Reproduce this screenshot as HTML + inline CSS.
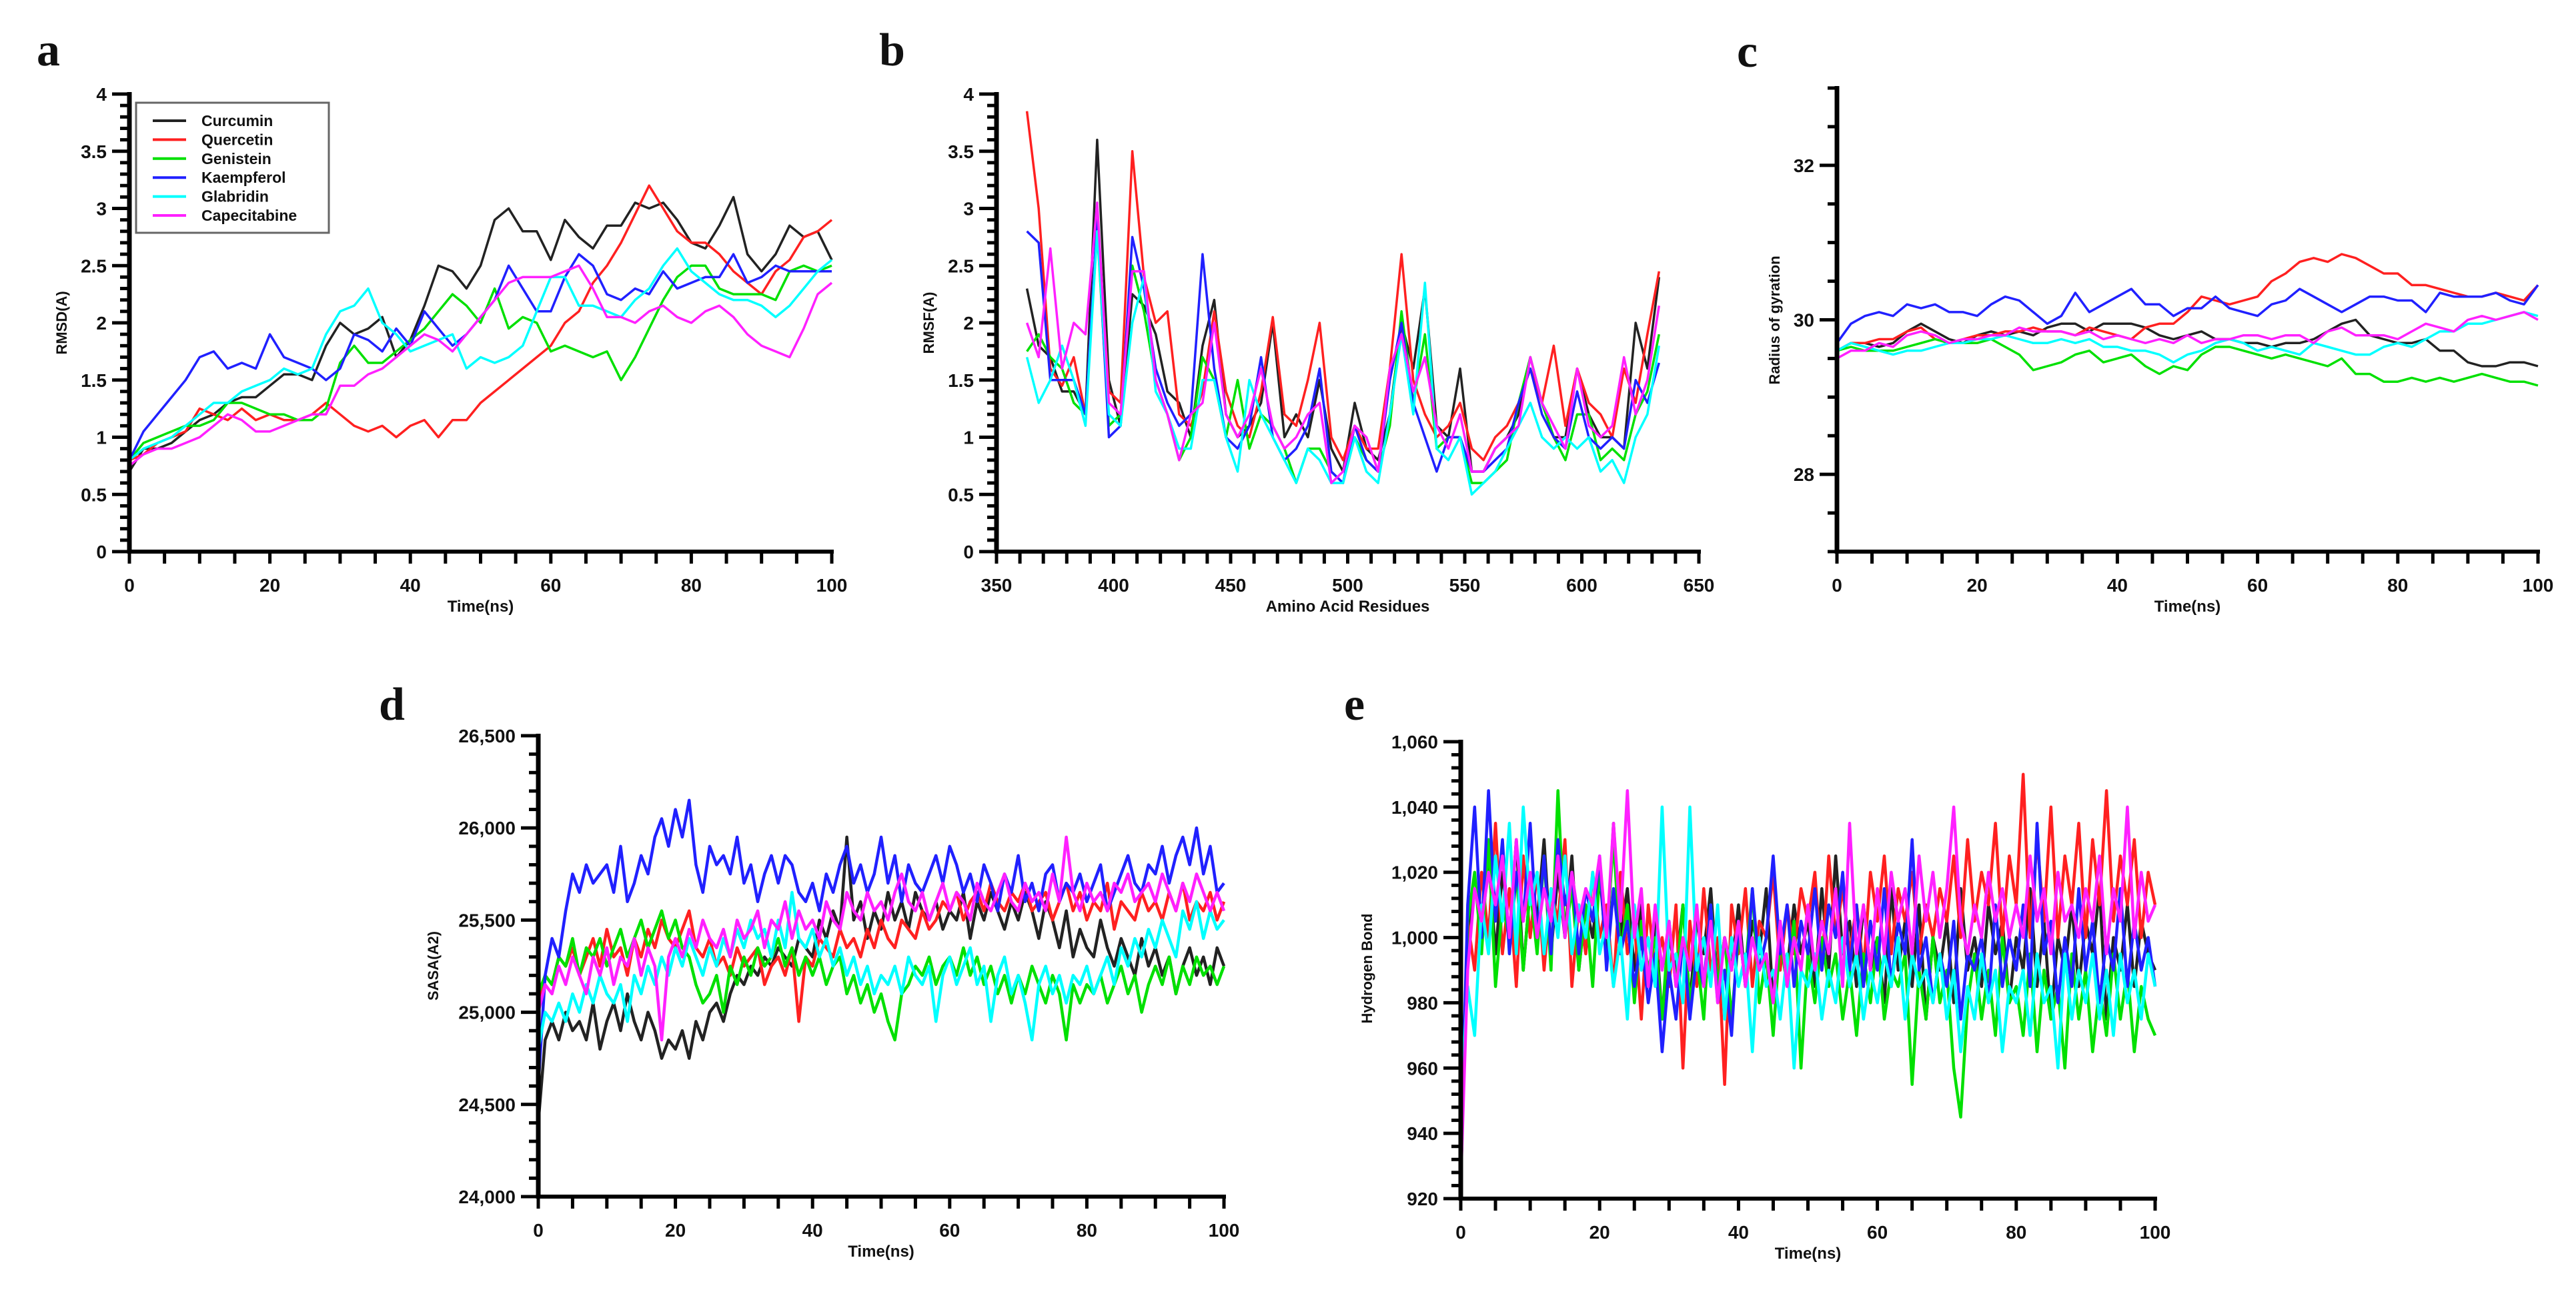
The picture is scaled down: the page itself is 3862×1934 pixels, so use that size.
<!DOCTYPE html>
<html><head><meta charset="utf-8"><style>
html,body{margin:0;padding:0;background:#fff;}
svg{display:block;}
text{font-family:"Liberation Sans",Arial,sans-serif;font-weight:bold;fill:#111;}
.pl{font-family:"Liberation Serif","Times New Roman",serif;font-weight:bold;}
</style></head><body>
<svg id="fig" width="3862" height="1934" viewBox="0 0 3862 1934" xmlns="http://www.w3.org/2000/svg"></svg>
<script>
// ---------- shared ----------
const seriesNames = ["Curcumin","Quercetin","Genistein","Kaempferol","Glabridin","Capecitabine"];
const seriesColors = ["#222222","#ff2020","#00e000","#2020ff","#00ffff","#ff20ff"];

// ---------- panel a: RMSD (t = 0..100 step 2) ----------
const rmsdTime = Array.from({length:51},(_,i)=>i*2);
const rmsdCurcumin = [0.7,0.9,0.9,0.95,1.05,1.15,1.2,1.3,1.35,1.35,1.45,1.55,1.55,1.5,1.8,2.0,1.9,1.95,2.05,1.7,1.85,2.15,2.5,2.45,2.3,2.5,2.9,3.0,2.8,2.8,2.55,2.9,2.75,2.65,2.85,2.85,3.05,3.0,3.05,2.9,2.7,2.65,2.85,3.1,2.6,2.45,2.6,2.85,2.75,2.8,2.55];
const rmsdQuercetin = [0.8,0.85,0.95,1.0,1.05,1.25,1.2,1.15,1.25,1.15,1.2,1.15,1.15,1.2,1.3,1.2,1.1,1.05,1.1,1.0,1.1,1.15,1.0,1.15,1.15,1.3,1.4,1.5,1.6,1.7,1.8,2.0,2.1,2.35,2.5,2.7,2.95,3.2,3.0,2.8,2.7,2.7,2.6,2.45,2.35,2.25,2.45,2.55,2.75,2.8,2.9];
const rmsdGenistein = [0.8,0.95,1.0,1.05,1.1,1.1,1.15,1.3,1.3,1.25,1.2,1.2,1.15,1.15,1.25,1.65,1.8,1.65,1.65,1.75,1.85,1.95,2.1,2.25,2.15,2.0,2.3,1.95,2.05,2.0,1.75,1.8,1.75,1.7,1.75,1.5,1.7,1.95,2.2,2.4,2.5,2.5,2.3,2.25,2.25,2.25,2.2,2.45,2.5,2.45,2.5];
const rmsdKaempferol = [0.8,1.05,1.2,1.35,1.5,1.7,1.75,1.6,1.65,1.6,1.9,1.7,1.65,1.6,1.5,1.6,1.9,1.85,1.75,1.95,1.8,2.1,1.95,1.8,1.9,2.05,2.2,2.5,2.3,2.1,2.1,2.4,2.6,2.5,2.25,2.2,2.3,2.25,2.45,2.3,2.35,2.4,2.4,2.6,2.35,2.4,2.5,2.45,2.45,2.45,2.45];
const rmsdGlabridin = [0.8,0.9,0.95,1.0,1.1,1.2,1.3,1.3,1.4,1.45,1.5,1.6,1.55,1.6,1.9,2.1,2.15,2.3,2.0,1.9,1.75,1.8,1.85,1.9,1.6,1.7,1.65,1.7,1.8,2.1,2.4,2.4,2.15,2.15,2.1,2.05,2.2,2.3,2.5,2.65,2.45,2.35,2.25,2.2,2.2,2.15,2.05,2.15,2.3,2.45,2.55];
const rmsdCapecitabine = [0.75,0.85,0.9,0.9,0.95,1.0,1.1,1.2,1.15,1.05,1.05,1.1,1.15,1.2,1.2,1.45,1.45,1.55,1.6,1.7,1.8,1.9,1.85,1.75,1.9,2.05,2.2,2.35,2.4,2.4,2.4,2.45,2.5,2.3,2.05,2.05,2.0,2.1,2.15,2.05,2.0,2.1,2.15,2.05,1.9,1.8,1.75,1.7,1.95,2.25,2.35];

// ---------- panel b: RMSF (residue 363..633 step 5) ----------
const rmsfResidues = Array.from({length:55},(_,i)=>363+i*5);
const rmsfCurcumin = [2.3,1.8,1.7,1.4,1.4,1.2,3.6,1.5,1.1,2.25,2.15,1.9,1.4,1.3,1.0,1.8,2.2,1.2,1.0,1.1,1.3,2.0,1.0,1.2,1.0,1.5,0.9,0.7,1.3,0.9,0.8,1.2,2.0,1.6,2.3,1.1,1.0,1.6,0.7,0.7,0.9,1.0,1.2,1.7,1.3,1.0,1.0,1.6,1.2,1.0,1.0,0.9,2.0,1.6,2.4];
const rmsfQuercetin = [3.85,3.0,1.6,1.45,1.7,1.2,2.9,1.4,1.3,3.5,2.4,2.0,2.1,1.2,1.1,1.4,2.1,1.4,1.1,1.0,1.4,2.05,1.2,1.1,1.5,2.0,1.0,0.8,1.1,0.9,0.9,1.6,2.6,1.5,1.2,1.0,1.1,1.3,0.9,0.8,1.0,1.1,1.3,1.6,1.3,1.8,1.1,1.6,1.3,1.2,1.0,1.6,1.3,1.9,2.45];
const rmsfGenistein = [1.75,1.9,1.7,1.6,1.3,1.2,2.8,1.1,1.2,2.5,2.1,1.5,1.2,0.8,1.0,1.7,1.5,1.0,1.5,0.9,1.2,1.1,0.9,0.6,0.9,0.9,0.7,0.6,1.0,0.8,0.7,1.1,2.1,1.3,1.9,0.9,1.0,1.0,0.6,0.6,0.7,0.8,1.3,1.7,1.3,1.0,0.8,1.2,1.2,0.8,0.9,0.8,1.2,1.4,1.9];
const rmsfKaempferol = [2.8,2.7,1.5,1.5,1.5,1.2,2.9,1.0,1.1,2.75,2.3,1.6,1.3,1.1,1.2,2.6,1.6,1.0,0.9,1.1,1.7,1.0,0.8,0.9,1.1,1.6,0.7,0.6,1.1,0.8,0.7,1.5,2.0,1.3,1.0,0.7,1.0,1.0,0.7,0.7,0.8,0.9,1.3,1.6,1.2,1.0,0.9,1.4,1.0,0.9,1.0,0.9,1.5,1.3,1.65];
const rmsfGlabridin = [1.7,1.3,1.5,1.8,1.5,1.1,2.8,1.2,1.1,2.0,2.4,1.4,1.2,0.9,0.9,1.5,1.5,1.0,0.7,1.5,1.2,1.0,0.8,0.6,0.9,0.8,0.6,0.6,1.0,0.7,0.6,1.2,1.9,1.2,2.35,0.9,0.8,1.0,0.5,0.6,0.7,0.9,1.1,1.3,1.0,0.9,1.0,0.9,1.0,0.7,0.8,0.6,1.0,1.2,1.8];
const rmsfCapecitabine = [2.0,1.7,2.65,1.6,2.0,1.9,3.05,1.3,1.2,2.45,2.45,1.5,1.2,0.8,1.2,1.3,2.0,1.2,1.0,1.2,1.6,1.1,0.9,1.0,1.2,1.3,0.6,0.7,1.1,1.0,0.7,1.6,1.9,1.4,1.7,1.1,0.9,1.2,0.7,0.7,0.9,1.0,1.1,1.7,1.3,1.1,0.9,1.6,1.1,1.0,1.1,1.7,1.2,1.5,2.15];

// ---------- panel c: Radius of gyration (t = 0..100 step 2) ----------
const rgTime = Array.from({length:51},(_,i)=>i*2);
const rgCurcumin = [29.6,29.7,29.7,29.65,29.7,29.85,29.95,29.85,29.75,29.7,29.8,29.85,29.8,29.85,29.8,29.9,29.95,29.95,29.85,29.95,29.95,29.95,29.9,29.8,29.75,29.8,29.85,29.75,29.75,29.7,29.7,29.65,29.7,29.7,29.75,29.85,29.95,30.0,29.8,29.75,29.7,29.7,29.75,29.6,29.6,29.45,29.4,29.4,29.45,29.45,29.4];
const rgQuercetin = [29.6,29.7,29.7,29.75,29.75,29.85,29.9,29.75,29.7,29.75,29.8,29.8,29.85,29.85,29.9,29.85,29.85,29.8,29.9,29.85,29.8,29.75,29.9,29.95,29.95,30.1,30.3,30.25,30.2,30.25,30.3,30.5,30.6,30.75,30.8,30.75,30.85,30.8,30.7,30.6,30.6,30.45,30.45,30.4,30.35,30.3,30.3,30.35,30.3,30.25,30.45];
const rgGenistein = [29.6,29.65,29.6,29.6,29.6,29.65,29.7,29.75,29.7,29.7,29.7,29.75,29.65,29.55,29.35,29.4,29.45,29.55,29.6,29.45,29.5,29.55,29.4,29.3,29.4,29.35,29.55,29.65,29.65,29.6,29.55,29.5,29.55,29.5,29.45,29.4,29.5,29.3,29.3,29.2,29.2,29.25,29.2,29.25,29.2,29.25,29.3,29.25,29.2,29.2,29.15];
const rgKaempferol = [29.7,29.95,30.05,30.1,30.05,30.2,30.15,30.2,30.1,30.1,30.05,30.2,30.3,30.25,30.1,29.95,30.05,30.35,30.1,30.2,30.3,30.4,30.2,30.2,30.05,30.15,30.15,30.3,30.15,30.1,30.05,30.2,30.25,30.4,30.3,30.2,30.1,30.2,30.3,30.3,30.25,30.25,30.1,30.35,30.3,30.3,30.3,30.35,30.25,30.2,30.45];
const rgGlabridin = [29.6,29.7,29.65,29.6,29.55,29.6,29.6,29.65,29.7,29.7,29.75,29.75,29.8,29.75,29.7,29.7,29.75,29.7,29.75,29.65,29.65,29.6,29.6,29.55,29.45,29.55,29.6,29.7,29.75,29.7,29.6,29.65,29.6,29.55,29.7,29.65,29.6,29.55,29.55,29.65,29.7,29.65,29.75,29.85,29.85,29.95,29.95,30.0,30.05,30.1,30.05];
const rgCapecitabine = [29.5,29.6,29.6,29.7,29.65,29.8,29.85,29.8,29.7,29.75,29.75,29.8,29.8,29.9,29.85,29.85,29.85,29.8,29.85,29.75,29.8,29.75,29.7,29.75,29.7,29.8,29.7,29.75,29.75,29.8,29.8,29.75,29.8,29.8,29.7,29.85,29.9,29.8,29.8,29.8,29.75,29.85,29.95,29.9,29.85,30.0,30.05,30.0,30.05,30.1,30.0];

// ---------- panel d: SASA (t = 0..100 step 1) ----------
const sasaTime = Array.from({length:101},(_,i)=>i);
const sasaCurcumin = [24400,24850,24950,24850,25000,24900,24950,24850,25050,24800,24950,25050,24900,25100,24950,24850,25000,24900,24750,24850,24800,24900,24750,24950,24850,25000,25050,24950,25100,25200,25150,25250,25200,25300,25250,25350,25300,25250,25400,25350,25300,25500,25400,25550,25450,25950,25500,25600,25400,25550,25450,25650,25500,25600,25450,25650,25550,25500,25600,25450,25550,25500,25650,25400,25600,25500,25650,25550,25450,25600,25500,25650,25550,25400,25600,25500,25350,25550,25300,25450,25350,25300,25500,25350,25250,25400,25300,25200,25400,25250,25350,25200,25300,25100,25250,25350,25200,25300,25150,25350,25250];
const sasaQuercetin = [25050,25200,25150,25300,25250,25350,25200,25300,25400,25250,25450,25300,25350,25200,25400,25300,25450,25350,25500,25400,25350,25450,25550,25350,25300,25400,25250,25300,25200,25350,25250,25300,25350,25150,25250,25300,25200,25350,24950,25300,25250,25400,25350,25300,25450,25350,25400,25300,25450,25350,25500,25400,25350,25500,25450,25400,25550,25450,25500,25600,25550,25650,25500,25600,25650,25550,25700,25600,25550,25650,25600,25700,25550,25600,25650,25500,25600,25700,25550,25650,25500,25600,25550,25700,25450,25600,25550,25500,25650,25550,25600,25500,25650,25550,25700,25500,25600,25550,25650,25500,25600];
const sasaGenistein = [25100,25200,25150,25300,25250,25400,25200,25350,25300,25400,25250,25350,25450,25300,25400,25500,25350,25450,25550,25400,25500,25350,25300,25150,25050,25100,25200,25000,25250,25150,25300,25200,25350,25250,25300,25400,25250,25350,25200,25300,25200,25300,25150,25250,25300,25100,25200,25050,25150,25000,25100,24950,24850,25100,25150,25250,25200,25300,25150,25250,25300,25200,25350,25200,25300,25150,25250,25100,25200,25050,25200,25100,25250,25150,25050,25200,25100,24850,25150,25050,25150,25100,25200,25050,25150,25250,25100,25200,25000,25150,25250,25150,25300,25100,25250,25150,25300,25200,25250,25150,25250];
const sasaKaempferol = [24600,25200,25400,25300,25550,25750,25650,25800,25700,25750,25800,25650,25900,25600,25700,25850,25750,25950,26050,25900,26100,25950,26150,25800,25650,25900,25800,25850,25750,25950,25700,25800,25600,25750,25850,25700,25850,25800,25650,25600,25700,25550,25750,25650,25800,25900,25700,25800,25650,25750,25950,25700,25850,25600,25800,25700,25650,25750,25850,25700,25900,25800,25650,25750,25600,25800,25700,25550,25750,25650,25850,25600,25700,25550,25750,25800,25600,25700,25650,25750,25600,25700,25800,25550,25650,25750,25850,25700,25650,25800,25750,25900,25700,25850,25950,25800,26000,25750,25900,25650,25700];
const sasaGlabridin = [24800,25000,24950,25050,24950,25100,25000,25150,25050,25200,25100,25050,25150,24950,25200,25100,25250,25150,25300,25200,25350,25250,25400,25300,25200,25350,25250,25400,25300,25450,25350,25500,25400,25450,25300,25500,25350,25650,25400,25350,25450,25300,25400,25250,25350,25200,25300,25150,25250,25100,25200,25150,25250,25100,25300,25200,25150,25250,24950,25200,25300,25150,25250,25350,25150,25250,24950,25200,25300,25100,25200,25050,24850,25150,25250,25100,25200,25050,25200,25150,25250,25100,25200,25300,25150,25350,25250,25400,25300,25450,25350,25500,25400,25300,25550,25450,25600,25400,25550,25450,25500];
const sasaCapecitabine = [25000,25150,25100,25250,25150,25300,25200,25100,25300,25200,25350,25150,25300,25250,25400,25200,25350,25250,24850,25300,25400,25300,25450,25350,25500,25400,25350,25450,25300,25500,25400,25450,25550,25350,25500,25450,25600,25400,25550,25450,25500,25400,25600,25500,25450,25650,25550,25500,25650,25550,25600,25500,25650,25750,25600,25550,25650,25500,25600,25700,25550,25650,25600,25500,25700,25600,25550,25650,25750,25600,25550,25700,25600,25650,25550,25750,25600,25950,25650,25550,25700,25600,25650,25550,25700,25650,25750,25600,25650,25700,25600,25750,25650,25550,25700,25600,25750,25650,25550,25650,25550];

// ---------- panel e: Hydrogen bonds (t = 0..100 step 1) ----------
const hbTime = Array.from({length:101},(_,i)=>i);
const hbCurcumin = [925,1000,1015,1005,1025,995,1020,1000,1030,990,1015,1005,1030,995,1020,1000,1025,990,1010,1000,1020,995,1035,1000,1015,990,1010,985,1005,975,1000,990,1010,980,1005,995,1015,985,1000,990,1010,985,1005,995,1015,980,1000,990,1010,995,1005,985,1015,990,1025,995,1005,985,1010,990,1000,980,1015,990,1005,985,1010,975,1000,990,1005,980,1015,990,1000,985,1010,995,1005,980,1000,990,1015,985,1005,975,1000,990,1010,985,1005,995,1015,975,1000,990,1010,985,1005,995,990];
const hbQuercetin = [930,1005,990,1020,1000,1035,995,1015,985,1025,1000,1020,990,1015,1005,1030,985,1010,995,1020,1000,1010,985,1020,995,1005,975,1010,990,1000,985,1010,960,1005,985,1015,990,1000,955,1010,995,1015,985,1005,1000,1020,990,1010,995,1015,1005,1020,990,1025,1000,1015,995,1010,990,1020,1005,1025,995,1015,1005,1020,995,1010,1000,1015,1005,1025,1000,1030,1005,1020,1010,1035,1000,1025,1010,1050,1000,1030,1005,1040,1000,1025,1010,1035,1000,1030,1010,1045,1005,1025,1010,1030,1000,1020,1010];
const hbGenistein = [935,1005,1020,995,1030,985,1010,1000,1020,990,1015,995,1025,990,1045,1000,1015,990,1010,985,1020,1000,1030,995,1010,980,1005,990,1000,975,1005,985,1010,980,995,975,1010,985,1000,975,1000,990,1015,980,995,970,1000,985,1005,960,995,980,1000,985,995,975,990,970,995,980,1000,975,990,985,995,955,990,975,1000,980,990,960,945,980,995,975,990,970,1000,980,985,970,995,965,990,975,985,960,995,975,990,965,985,970,995,975,990,965,985,975,970];
const hbKaempferol = [930,1010,1040,1000,1045,1005,1030,995,1020,1005,1035,1000,1025,995,1030,1010,1020,995,1015,1005,1025,990,1015,995,1005,985,1000,980,995,965,990,975,1000,975,995,985,1010,980,990,970,1005,985,1015,990,1000,1025,995,1010,985,1005,995,1015,990,1010,1000,1020,990,1010,985,1005,990,1015,985,1005,995,1030,990,1000,980,995,985,1005,975,995,990,1000,980,1010,985,1000,990,1010,985,1035,995,1005,980,1000,985,1015,990,1005,980,1000,990,1015,985,1005,990,1000,985];
const hbGlabridin = [950,985,970,1010,995,1025,1005,1035,995,1040,1010,1020,995,1015,1000,1025,995,1010,1000,1020,995,1005,985,1000,975,1010,990,1000,985,1040,990,995,980,1040,990,1000,985,1010,975,1000,985,995,965,1000,985,990,975,995,960,990,985,995,975,990,980,1000,985,995,975,990,980,995,985,1000,975,995,985,990,980,995,975,990,965,985,975,995,980,990,965,985,980,990,970,995,980,985,960,995,975,990,980,995,975,990,970,995,980,990,975,995,985];
const hbCapecitabine = [925,990,1015,1005,1020,1010,1025,1000,1030,1005,1020,1000,1015,1005,1025,1000,1020,1005,1015,1010,1025,1000,1035,1005,1045,1000,1015,985,1010,990,1005,985,1000,990,1010,985,1005,980,1000,990,1005,985,1000,990,995,980,1005,985,1000,990,1010,990,1005,995,1015,985,1035,995,1010,990,1015,995,1020,1005,1015,995,1025,1005,1020,1000,1015,1040,1005,995,1010,1000,1020,1005,1015,1000,1010,1000,1025,1005,1015,995,1020,1005,1010,1000,1015,1005,1025,995,1015,1005,1040,1000,1020,1005,1010];

// ---------- tick labels ----------
const rmsdTicks = [0,0.5,1,1.5,2,2.5,3,3.5,4];
const rmsfTicks = [0,0.5,1,1.5,2,2.5,3,3.5,4];
const rgTicks = [28,30,32];
const sasaTicks = [24000,24500,25000,25500,26000,26500];
const hbTicks = [920,940,960,980,1000,1020,1040,1060];
const timeTicks = [0,20,40,60,80,100];
const residueTicks = [350,400,450,500,550,600,650];

// ---------- drawing ----------
const NS = "http://www.w3.org/2000/svg";
const svg = document.getElementById('fig');
function mk(tag, attrs, parent){
  const e = document.createElementNS(NS, tag);
  for (const k in attrs) e.setAttribute(k, attrs[k]);
  (parent||svg).appendChild(e);
  return e;
}
function fmt(v){ return v>=1000 ? v.toLocaleString('en-US') : String(v); }

function panel(cfg){
  const g = mk('g', {});
  
  
  const sx = v => cfg.px0 + (v - cfg.xmin) / (cfg.xmax - cfg.xmin) * (cfg.px1 - cfg.px0);
  const sy = v => cfg.py0 - (v - cfg.ymin) / (cfg.ymax - cfg.ymin) * (cfg.py0 - cfg.py1);
  const sg = mk('g', {}, g);
  cfg.series.forEach((vals, si) => {
    const pts = vals.map((v,i) => sx(cfg.xs[i]).toFixed(1) + ',' + sy(v).toFixed(1)).join(' ');
    const pl = mk('polyline', {points: pts, fill:'none', stroke: seriesColors[si], 'stroke-width': cfg.lw || 3.5, 'stroke-linejoin':'round'}, sg);
    
    
  });
  const ax = mk('g', {}, g);
  
  
  mk('line', {x1: cfg.px0, y1: cfg.py1 - 3, x2: cfg.px0, y2: cfg.py0 + 3, stroke:'#000', 'stroke-width': 7}, ax);
  mk('line', {x1: cfg.px0 - 3, y1: cfg.py0, x2: cfg.px1 + 3, y2: cfg.py0, stroke:'#000', 'stroke-width': 6}, ax);
  for (let v = cfg.ymin; v <= cfg.ymax + 1e-9; v += cfg.yminor) {
    const isMaj = cfg.yticks.some(t => Math.abs(t - v) < 1e-6);
    const y = sy(v);
    mk('line', {x1: cfg.px0 - (isMaj ? 26 : 14), y1: y, x2: cfg.px0, y2: y, stroke:'#000', 'stroke-width': 5}, ax);
  }
  cfg.yticks.forEach(t => {
    const tx = mk('text', {x: cfg.px0 - 34, y: sy(t) + 10, 'text-anchor':'end', 'font-size': 28}, ax);
    tx.textContent = fmt(t);
    
    
  });
  for (let v = cfg.xmin; v <= cfg.xmax + 1e-9; v += cfg.xminor) {
    const x = sx(v);
    mk('line', {x1: x, y1: cfg.py0, x2: x, y2: cfg.py0 + 18, stroke:'#000', 'stroke-width': 5}, ax);
  }
  cfg.xticks.forEach(t => {
    const tx = mk('text', {x: sx(t), y: cfg.py0 + 60, 'text-anchor':'middle', 'font-size': 28}, ax);
    tx.textContent = fmt(t);
    
    
  });
  const xl = mk('text', {x: (cfg.px0 + cfg.px1)/2, y: cfg.py0 + 90, 'text-anchor':'middle', 'font-size': 24}, g);
  xl.textContent = cfg.xlabel;
  
  
  const yl = mk('text', {x: 0, y: 0, 'text-anchor':'middle', 'font-size': 22, transform: `translate(${cfg.ylx},${cfg.yly}) rotate(-90)`}, g);
  yl.textContent = cfg.ylabel;
  
  
  const lt = mk('text', {x: cfg.lx, y: cfg.ly, 'font-size': 70, class:'pl'}, g);
  lt.textContent = cfg.letter;
  
  
  return g;
}

panel({name:'panel-a-rmsd', letter:'a', lx:55, ly:98, px0:194, px1:1247, py0:827, py1:141,
  xmin:0, xmax:100, ymin:0, ymax:4, xminor:5, yminor:0.1, xticks:timeTicks, yticks:rmsdTicks,
  xs:rmsdTime, series:[rmsdCurcumin,rmsdQuercetin,rmsdGenistein,rmsdKaempferol,rmsdGlabridin,rmsdCapecitabine],
  xlabel:'Time(ns)', ylabel:'RMSD(A)', ylx:100, yly:484});

panel({name:'panel-b-rmsf', letter:'b', lx:1318, ly:98, px0:1494, px1:2547, py0:827, py1:141,
  xmin:350, xmax:650, ymin:0, ymax:4, xminor:10, yminor:0.1, xticks:residueTicks, yticks:rmsfTicks,
  xs:rmsfResidues, series:[rmsfCurcumin,rmsfQuercetin,rmsfGenistein,rmsfKaempferol,rmsfGlabridin,rmsfCapecitabine],
  xlabel:'Amino Acid Residues', ylabel:'RMSF(A)', ylx:1400, yly:484});

panel({name:'panel-c-radius-of-gyration', letter:'c', lx:2604, ly:100, px0:2754, px1:3805, py0:827, py1:132,
  xmin:0, xmax:100, ymin:27, ymax:33, xminor:5, yminor:0.5, xticks:timeTicks, yticks:rgTicks,
  xs:rgTime, series:[rgCurcumin,rgQuercetin,rgGenistein,rgKaempferol,rgGlabridin,rgCapecitabine],
  xlabel:'Time(ns)', ylabel:'Radius of gyration', ylx:2668, yly:480});

panel({name:'panel-d-sasa', letter:'d', lx:568, ly:1079, px0:807, px1:1835, py0:1794, py1:1103, lw:4.5,
  xmin:0, xmax:100, ymin:24000, ymax:26500, xminor:5, yminor:100, xticks:timeTicks, yticks:sasaTicks,
  xs:sasaTime, series:[sasaCurcumin,sasaQuercetin,sasaGenistein,sasaKaempferol,sasaGlabridin,sasaCapecitabine],
  xlabel:'Time(ns)', ylabel:'SASA(A2)', ylx:657, yly:1448});

panel({name:'panel-e-hydrogen-bond', letter:'e', lx:2015, ly:1079, px0:2190, px1:3231, py0:1797, py1:1112, lw:4.5,
  xmin:0, xmax:100, ymin:920, ymax:1060, xminor:5, yminor:4, xticks:timeTicks, yticks:hbTicks,
  xs:hbTime, series:[hbCurcumin,hbQuercetin,hbGenistein,hbKaempferol,hbGlabridin,hbCapecitabine],
  xlabel:'Time(ns)', ylabel:'Hydrogen Bond', ylx:2057, yly:1452});

// legend in panel a
const lg = mk('g', {});


mk('rect', {x:204, y:154, width:289, height:195, fill:'#fff', stroke:'#666', 'stroke-width':3}, lg);
seriesNames.forEach((n, i) => {
  const y = 181 + i * 28.4;
  const e = mk('g', {}, lg);
  
  
  mk('line', {x1:229, y1:y, x2:279, y2:y, stroke:seriesColors[i], 'stroke-width':4}, e);
  const t = mk('text', {x:302, y:y + 8, 'font-size':23}, e);
  t.textContent = n;
});
</script>
</body></html>
